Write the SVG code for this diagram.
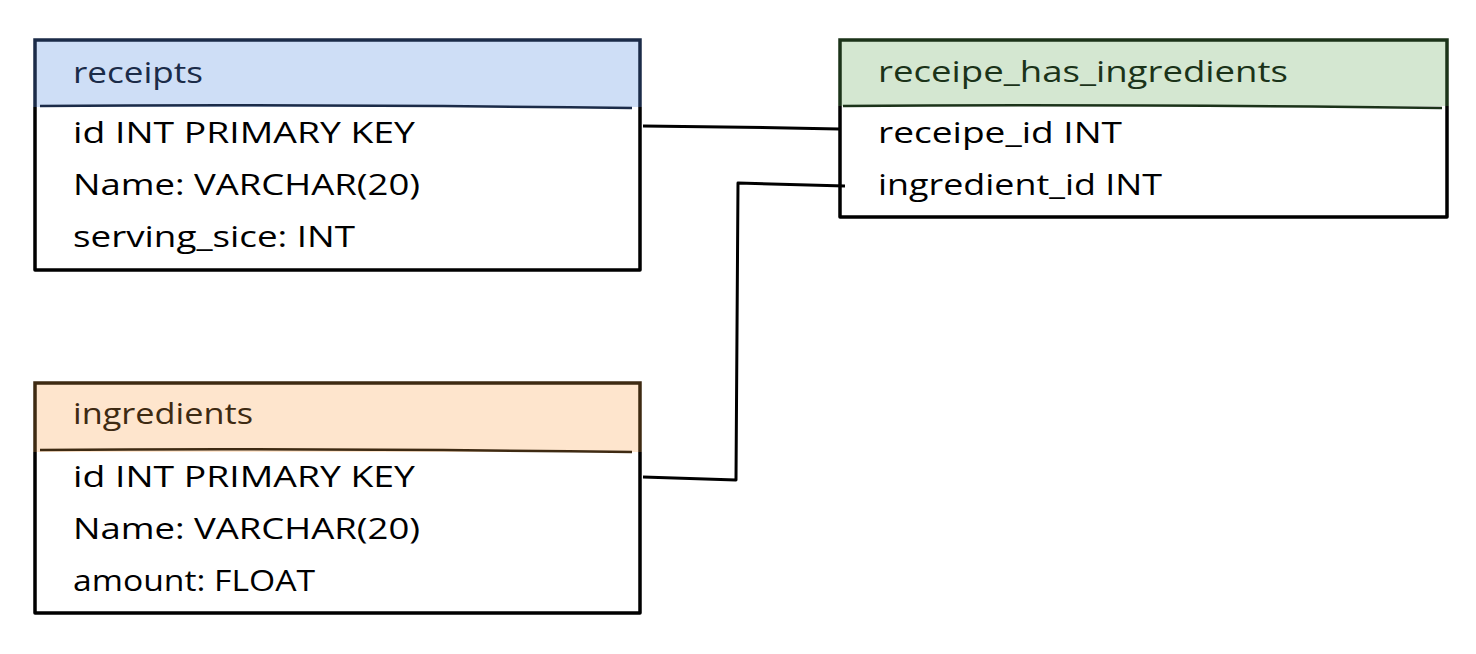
<svg xmlns="http://www.w3.org/2000/svg" width="1476" height="654" viewBox="0 0 1476 654">
<style>
text{font-family:"Open Sans","Liberation Sans",sans-serif;font-size:29px;font-weight:500;fill:#000}
.box{fill:none;stroke:#000;stroke-width:3.5;stroke-linejoin:round}
.sep{stroke-width:2.5;fill:none}
.conn{fill:none;stroke:#000;stroke-width:3;stroke-linejoin:round}
</style>
<rect width="1476" height="654" fill="#fff"/>
<g id="receipts">
<rect x="35" y="40" width="605" height="67" fill="#cedef6"/>
<path d="M35 107 V40 H640 V107" fill="none" stroke="#1b2b48" stroke-width="3.5"/>
<path class="box" d="M640 107 V270 H35 V107"/>
<path class="sep" stroke="#1b2b48" d="M40 106 Q300 104 632 108"/>
<text x="73" y="83" style="fill:#1b2b48" textLength="130" lengthAdjust="spacingAndGlyphs">receipts</text>
<text x="73" y="143" textLength="342" lengthAdjust="spacingAndGlyphs">id INT PRIMARY KEY</text>
<text x="73" y="195" textLength="347" lengthAdjust="spacingAndGlyphs">Name: VARCHAR(20)</text>
<text x="73" y="247" textLength="282" lengthAdjust="spacingAndGlyphs">serving_sice: INT</text>
</g>
<g id="receipe_has_ingredients">
<rect x="840" y="40" width="607" height="66" fill="#d4e7d1"/>
<path d="M840 106 V40 H1447 V106" fill="none" stroke="#1b3319" stroke-width="3.5"/>
<path class="box" d="M1447 106 V217 H840 V106"/>
<path class="sep" stroke="#1b3319" d="M843 106 Q1100 104 1442 108"/>
<text x="878" y="82" style="fill:#1b3319" textLength="410" lengthAdjust="spacingAndGlyphs">receipe_has_ingredients</text>
<text x="878" y="143" textLength="244" lengthAdjust="spacingAndGlyphs">receipe_id INT</text>
<text x="878" y="195" textLength="284" lengthAdjust="spacingAndGlyphs">ingredient_id INT</text>
</g>
<g id="ingredients">
<rect x="35" y="383" width="605" height="69" fill="#fee5cd"/>
<path d="M35 452 V383 H640 V452" fill="none" stroke="#3e2a12" stroke-width="3.5"/>
<path class="box" d="M640 452 V613 H35 V452"/>
<path class="sep" stroke="#3e2a12" d="M40 450 Q300 448 632 452"/>
<text x="73" y="424" style="fill:#3e2a12" textLength="180" lengthAdjust="spacingAndGlyphs">ingredients</text>
<text x="73" y="487" textLength="342" lengthAdjust="spacingAndGlyphs">id INT PRIMARY KEY</text>
<text x="73" y="539" textLength="347" lengthAdjust="spacingAndGlyphs">Name: VARCHAR(20)</text>
<text x="73" y="591" textLength="242" lengthAdjust="spacingAndGlyphs">amount: FLOAT</text>
</g>
<g id="connectors">
<path class="conn" d="M643 126 Q740 127 839 129"/>
<path class="conn" d="M643 477 L736 480 L738 183 L845 186"/>
</g>
</svg>
